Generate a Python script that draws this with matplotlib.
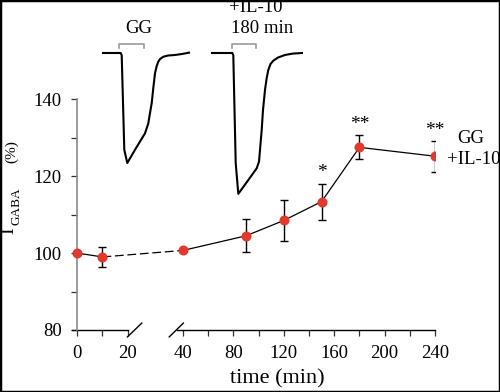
import numpy as np
import matplotlib
matplotlib.use("Agg")
import matplotlib.pyplot as plt
from matplotlib.patches import Rectangle

plt.rcParams['font.family'] = ['Liberation Serif', 'DejaVu Serif']

# summary data: I_GABA (%) vs time after GG + IL-10
times = [0, 10, 40, 90, 120, 150, 180, 240]
means = [100.0, 99.0, 100.7, 104.5, 108.5, 113.4, 127.5, 125.2]
errs = [0.0, 2.5, 0.0, 4.3, 5.4, 4.7, 3.1, 4.0]
stars = {150: '*', 180: '**', 240: '**'}

x_major = [0, 20, 40, 80, 120, 160, 200, 240]
x_minor = [10, 60, 100, 140, 180, 220]
y_major = [80, 100, 120, 140]
y_minor = [90, 110, 130]

# example current traces (normalized to control peak)
tr1_t = [0, 18.7, 19.7, 22.3, 25.3, 33, 43, 46.3, 48, 49.7, 51.3, 53, 54.7,
         56.3, 58, 61.3, 66, 73, 80, 87]
tr1_i = [0, 0, -0.02, -0.88, -1.0, -0.88, -0.73, -0.64, -0.545, -0.457, -0.318,
         -0.185, -0.118, -0.079, -0.055, -0.034, -0.023, -0.018, -0.009, 0.003]
tr2_t = [0, 21.3, 22.3, 24.7, 27.3, 37.3, 45.7, 48, 50.7, 52, 54, 55.7, 57.3,
         59.5, 62.3, 67, 74, 82, 91.3]
tr2_i = [0, 0, -0.02, -1.0, -1.28, -1.155, -1.048, -0.988, -0.70, -0.518,
         -0.336, -0.227, -0.155, -0.10, -0.07, -0.041, -0.018, -0.005, 0.0]
gg1 = (17.0, 41.7)
gg2 = (20.7, 45.0)

red = '#e2392b'

# broken time axis: 0-20 min at double scale, 20-40 min compressed gap
brk_t = [-1000, 0, 20, 40, 10000]
brk_u = [-2000, 0, 40, 84, 10044]


def fwd(t):
    return np.interp(t, brk_t, brk_u)


def inv(u):
    return np.interp(u, brk_u, brk_t)


fig = plt.figure(figsize=(5.0, 3.92), dpi=100)
ax = fig.add_axes([72 / 500, 1 - 330 / 392, 363 / 500, 230.7 / 392])
ax.set_xscale('function', functions=(fwd, inv))
ax.set_xlim(-2.1, 240)
ax.set_ylim(80, 140)

# connecting line (dashed across the break)
ax.plot(times[:2], means[:2], color='black', lw=0.9, zorder=2)
ax.plot(times[1:3], means[1:3], color='black', lw=0.9, ls=(0, (7, 3)), zorder=2)
ax.plot(times[2:], means[2:], color='black', lw=0.9, zorder=2)
ax.errorbar(times, means, yerr=errs, fmt='none', ecolor='black', elinewidth=1.0,
            capsize=2.6, capthick=1.0, zorder=3)
ax.plot(times, means, 'o', color=red, mec=red, ms=6.2, zorder=4)

for t, s in stars.items():
    i = times.index(t)
    ax.annotate(s, (t, means[i] + errs[i]), xytext=(0, 1.5), textcoords='offset points',
                ha='center', va='bottom', fontsize=14, annotation_clip=False)

# axes styling
for side in ['top', 'right', 'bottom']:
    ax.spines[side].set_visible(False)
ax.spines['left'].set_position(('data', 0))
ax.spines['left'].set_color('#8a8a8a')
ax.spines['left'].set_linewidth(1.2)

ax.set_xticks(x_major)
ax.set_xticks(x_minor, minor=True)
ax.set_xticklabels([str(v) for v in x_major])
ax.set_yticks(y_major)
ax.set_yticks(y_minor, minor=True)
ax.tick_params(axis='both', which='both', direction='out', length=4, width=0.9,
               labelsize=13.5, color='#333333')
ax.tick_params(axis='x', which='both', pad=6.5)
ax.tick_params(axis='y', which='both', pad=7)

# bottom axis line with break marks
xt = ax.get_xaxis_transform()
ax.plot([-2.1, 20.0], [0, 0], color='black', lw=1.0, transform=xt, clip_on=False)
ax.plot([37.8, 240], [0, 0], color='black', lw=1.0, transform=xt, clip_on=False)
for c in [22.5, 37.6]:
    ax.plot([c - 2.6, c + 2.6], [78.2, 81.8], color='black', lw=1.0, clip_on=False)

# y label: I_GABA (%)
fig.text(8.5 / 500, 1 - 231 / 392, 'I', rotation=90, ha='center', va='center',
         fontsize=14.5)
fig.text(16 / 500, 1 - 206 / 392, 'GABA', rotation=90, ha='center', va='center',
         fontsize=9.5)
fig.text(12 / 500, 1 - 152 / 392, '(%)', rotation=90, ha='center', va='center',
         fontsize=11)
fig.text(277 / 500, 1 - 379 / 392, 'time (min)', ha='center', va='center',
         fontsize=16)

fig.text(457 / 500, 1 - 138.3 / 392, 'GG', ha='left', va='center', fontsize=13.5)
fig.text(446.7 / 500, 1 - 160 / 392, '+IL-10', ha='left', va='center', fontsize=13.5)

# example traces
for left, tt, ii, gg in [(102, tr1_t, tr1_i, gg1), (211, tr2_t, tr2_i, gg2)]:
    tax = fig.add_axes([left / 500, 1 - 196 / 392, 92 / 500, 154 / 392])
    tax.set_xlim(0, 92)
    tax.set_ylim(-1.3, 0.1)
    tax.axis('off')
    tax.plot(tt, ii, color='black', lw=1.5, solid_joinstyle='round')
    tax.plot([gg[0], gg[0], gg[1], gg[1]], [0.05, 0.08, 0.08, 0.05],
             color='#9a9a9a', lw=1.2)

fig.text(138.3 / 500, 1 - 28.3 / 392, 'GG', ha='center', va='center', fontsize=13.5)
fig.text(262.5 / 500, 1 - 28.3 / 392, '180 min', ha='center', va='center', fontsize=13.5)
fig.text(256 / 500, 1 - 7 / 392, '+IL-10', ha='center', va='center', fontsize=13.5)

fig.patches.append(Rectangle((0, 0), 1, 1, transform=fig.transFigure, fill=False,
                             ec='black', lw=2.5))

fig.savefig('out.png', dpi=100)
